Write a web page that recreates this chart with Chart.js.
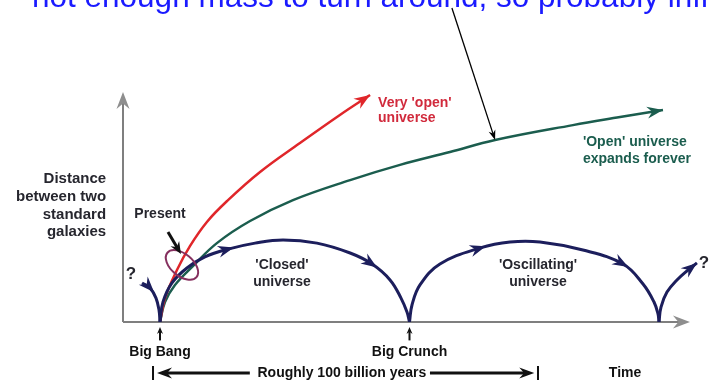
<!DOCTYPE html>
<html>
<head>
<meta charset="utf-8">
<script src="https://cdn.jsdelivr.net/npm/chart.js@4"></script>
<style>
  html, body { margin: 0; padding: 0; background: #fff; }
  canvas { display: block; }
</style>
</head>
<body>
<canvas id="universeChart" width="709" height="385"></canvas>
<script>
// time axis: Big Bang = 0, Big Crunch = 100; distance axis 0..100
const veryOpenT = [0, 2, 6.8, 12, 18.8, 26.9, 40.1, 56.1, 72.1, 84.2];
const veryOpenD = [0, 10.4, 22.6, 33, 43.5, 52.6, 65.2, 77.8, 90, 98.7];

const openT = [0, 2, 6, 13.2, 22.8, 36.1, 53.3, 76.2, 96.2, 116.2, 134.3, 165.5, 184.4, 201.6];
const openD = [0, 8.7, 16.1, 24.3, 34.3, 43.9, 53, 61.7, 68.3, 73.9, 79.1, 85.6, 89.1, 92.2];

const closedT = [0, 1.2, 4.8, 10.8, 18, 27.3, 38.1, 49.3, 62.9, 76.2, 85, 92.2, 96.6, 99, 100];
const closedD = [0, 8.7, 17, 23.5, 28.3, 31.7, 34.3, 35.7, 34.3, 30, 25.2, 18.3, 10.4, 4.3, 0];

const oscT = [100, 101, 104.2, 112.2, 128.3, 140.3, 152.3, 169.5, 185.6, 193.6, 198, 199.6, 200];
const oscD = [0, 7.4, 16.1, 25.2, 32.2, 34.8, 34.8, 31.3, 25.2, 16.5, 8.7, 3.5, 0];

const nextT = [200, 200.8, 203.2, 207.2, 211.6, 215.2];
const nextD = [0, 6.5, 13, 18.3, 22.6, 25.7];

const beforeT = [-7.2, -4, -1.6, -0.4, 0];
const beforeD = [17, 14.8, 10.4, 5.2, 0];

const axisTitle = ['Distance', 'between two', 'standard', 'galaxies'];
const eventNames = ['Big Bang', 'Big Crunch'];
const eventTimes = [0, 100];
const spanText = 'Roughly 100 billion years';
const timeText = 'Time';
const headline = 'not enough mass to turn around, so probably infinite';

const NAVY = '#1c1e5c';
const RED = '#e0262a';
const GREEN = '#1b5d4e';
const GREY = '#7f7f7f';
const TEXT = '#26262e';

const pts = (xs, ys) => xs.map((x, i) => ({ x, y: ys[i] }));

function curve(xs, ys, color, width, heads) {
  return {
    data: pts(xs, ys),
    showLine: true,
    borderColor: color,
    borderWidth: width,
    pointRadius: 0,
    tension: 0.4,
    heads: heads
  };
}

function arrowHead(ctx, tx, ty, ang, len, wid, color) {
  ctx.save();
  ctx.translate(tx, ty);
  ctx.rotate(ang);
  ctx.fillStyle = color;
  ctx.beginPath();
  ctx.moveTo(0, 0);
  ctx.lineTo(-len, -wid / 2);
  ctx.lineTo(-len * 0.68, 0);
  ctx.lineTo(-len, wid / 2);
  ctx.closePath();
  ctx.fill();
  ctx.restore();
}

function arrowLine(ctx, x1, y1, x2, y2, color, width, len, wid) {
  const ang = Math.atan2(y2 - y1, x2 - x1);
  ctx.save();
  ctx.strokeStyle = color;
  ctx.lineWidth = width;
  ctx.beginPath();
  ctx.moveTo(x1, y1);
  ctx.lineTo(x2 - Math.cos(ang) * len * 0.6, y2 - Math.sin(ang) * len * 0.6);
  ctx.stroke();
  ctx.restore();
  arrowHead(ctx, x2, y2, ang, len, wid, color);
}

const diagram = {
  id: 'diagram',
  beforeDatasetsDraw(chart) {
    const { ctx, scales: { x, y } } = chart;
    const left = x.getPixelForValue(x.min);
    const base = y.getPixelForValue(0);
    const xEnd = x.getPixelForValue(212.4);
    const yEnd = y.getPixelForValue(100);
    ctx.save();
    ctx.strokeStyle = GREY;
    ctx.lineWidth = 2;
    ctx.beginPath();
    ctx.moveTo(left, base);
    ctx.lineTo(xEnd - 10, base);
    ctx.moveTo(left, base);
    ctx.lineTo(left, yEnd + 10);
    ctx.stroke();
    ctx.restore();
    arrowHead(ctx, xEnd, base, 0, 17, 13, '#8e8e8e');
    arrowHead(ctx, left, yEnd, -Math.PI / 2, 17, 13, '#8e8e8e');
  },
  afterDatasetsDraw(chart) {
    const { ctx, scales: { x, y } } = chart;
    const X = v => x.getPixelForValue(v);
    const Y = v => y.getPixelForValue(v);

    // arrowheads along the curves
    chart.data.datasets.forEach((ds, di) => {
      const els = chart.getDatasetMeta(di).data;
      (ds.heads || []).forEach(i => {
        const el = els[i];
        let ang, tx = el.x, ty = el.y;
        if (i === els.length - 1) {
          const p = els[i - 1];
          const cx = el.cp1x !== undefined ? el.cp1x : p.x;
          const cy = el.cp1y !== undefined ? el.cp1y : p.y;
          ang = Math.atan2(el.y - cy, el.x - cx);
        } else {
          ang = Math.atan2(els[i + 1].y - els[i - 1].y, els[i + 1].x - els[i - 1].x);
          tx += Math.cos(ang) * 6;
          ty += Math.sin(ang) * 6;
        }
        arrowHead(ctx, tx, ty, ang, 16, 12, ds.borderColor);
      });
    });

    ctx.save();
    // "Present" ring
    ctx.strokeStyle = '#86305f';
    ctx.lineWidth = 2;
    ctx.beginPath();
    ctx.ellipse(X(8.8), Y(24.8), 19, 11, 40 * Math.PI / 180, 0, Math.PI * 2);
    ctx.stroke();

    ctx.textBaseline = 'middle';
    ctx.font = 'bold 15px "Liberation Sans", Arial, sans-serif';
    ctx.fillStyle = TEXT;
    ctx.textAlign = 'right';
    axisTitle.forEach((t, i) => ctx.fillText(t, X(-21.6), Y(62.2 - i * 7.7)));

    ctx.font = 'bold 14px "Liberation Sans", Arial, sans-serif';
    ctx.textAlign = 'center';
    ctx.fillText('Present', X(0), Y(47));
    arrowLine(ctx, X(3.2), Y(39.1), X(8.4), Y(29.6), '#111', 3, 12, 10);

    ctx.font = 'bold 17px "Liberation Sans", Arial, sans-serif';
    ctx.fillText('?', X(-11.6), Y(20.9));
    ctx.fillText('?', X(218), Y(25.7));

    ctx.font = 'bold 14px "Liberation Sans", Arial, sans-serif';
    ctx.fillStyle = '#d12a3c';
    ctx.textAlign = 'left';
    ctx.fillText("Very 'open'", X(87.4), Y(95.2));
    ctx.fillText('universe', X(87.4), Y(88.7));

    ctx.fillStyle = GREEN;
    ctx.fillText("'Open' universe", X(169.5), Y(78.3));
    ctx.fillText('expands forever', X(169.5), Y(70.9));

    ctx.fillStyle = TEXT;
    ctx.textAlign = 'center';
    ctx.fillText("'Closed'", X(48.9), Y(24.8));
    ctx.fillText('universe', X(48.9), Y(17.4));
    ctx.fillText("'Oscillating'", X(151.5), Y(24.8));
    ctx.fillText('universe', X(151.5), Y(17.4));

    // events on the time axis
    ctx.fillStyle = '#111';
    eventTimes.forEach((t, i) => {
      ctx.fillText(eventNames[i], X(t), Y(-13));
      arrowLine(ctx, X(t), Y(-8), X(t), Y(-2.2), '#111', 2, 7, 6);
    });

    // span bar under the axis
    const sy = Y(-22.2);
    ctx.fillText(spanText, X(72.9), sy);
    ctx.fillText(timeText, X(186.4), sy);
    ctx.strokeStyle = '#111';
    ctx.lineWidth = 2;
    ctx.beginPath();
    ctx.moveTo(X(-2.8), sy - 7); ctx.lineTo(X(-2.8), sy + 7);
    ctx.moveTo(X(151.5), sy - 7); ctx.lineTo(X(151.5), sy + 7);
    ctx.stroke();
    arrowLine(ctx, X(36), sy, X(-1.2), sy, '#111', 3, 15, 11);
    arrowLine(ctx, X(108.2), sy, X(150), sy, '#111', 3, 15, 11);

    // pointer from the caption to the open curve
    arrowLine(ctx, X(117), Y(136.5), X(134.3), Y(79.1), '#000', 1.3, 10, 7);

    ctx.font = '31.5px "Liberation Sans", Arial, sans-serif';
    ctx.fillStyle = '#1a1aff';
    ctx.textAlign = 'left';
    ctx.textBaseline = 'alphabetic';
    ctx.fillText(headline, 32, 7);
    ctx.restore();
  }
};

new Chart(document.getElementById('universeChart'), {
  type: 'scatter',
  data: {
    datasets: [
      curve(beforeT, beforeD, NAVY, 3, [1]),
      curve(closedT, closedD, NAVY, 3, [5, 10]),
      curve(oscT, oscD, NAVY, 3, [4, 8]),
      curve(nextT, nextD, NAVY, 3, [5]),
      curve(veryOpenT, veryOpenD, RED, 2.5, [9]),
      curve(openT, openD, GREEN, 2.5, [13])
    ]
  },
  options: {
    responsive: false,
    animation: false,
    layout: { padding: { left: 123, right: 0, top: 92, bottom: 63 } },
    scales: {
      x: { type: 'linear', display: false, min: -14.83, max: 220.04 },
      y: { type: 'linear', display: false, min: 0, max: 100 }
    },
    plugins: {
      legend: { display: false },
      tooltip: { enabled: false }
    }
  },
  plugins: [diagram]
});
</script>
</body>
</html>
